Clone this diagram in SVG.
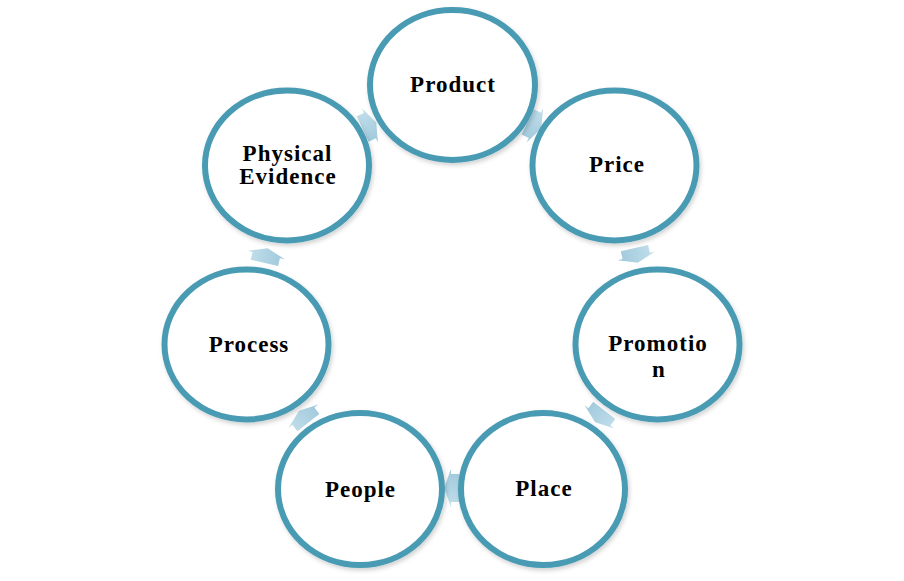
<svg xmlns="http://www.w3.org/2000/svg" width="904" height="581" viewBox="0 0 904 581">
  <defs>
    <filter id="sh" x="-10%" y="-10%" width="125%" height="125%">
      <feDropShadow dx="1.5" dy="2.5" stdDeviation="2" flood-color="#000" flood-opacity="0.18"/>
    </filter>
    <linearGradient id="ag" x1="0" y1="0" x2="0" y2="1">
      <stop offset="0" stop-color="#c2dfeb"/>
      <stop offset="1" stop-color="#9fc8db"/>
    </linearGradient>
    <polygon id="arr" points="-7,-14 1,-14 1,-19 8,0 1,19 1,14 -7,14"/>
  </defs>
  <style>
    .node ellipse { fill: #ffffff; stroke: #4A9BB4; stroke-width: 6; filter: url(#sh); }
    .node text { font-family: "Liberation Serif", "Times New Roman", serif; font-weight: bold; font-size: 23px; letter-spacing: 1px; text-anchor: middle; fill: #000; }
    .conn use { fill: url(#ag); }
  </style>
  <rect width="904" height="581" fill="#ffffff"/>
  <g id="connectors" class="conn">
    <use href="#arr" transform="translate(369,126) rotate(-25)"/>
    <use href="#arr" transform="translate(534,125) rotate(26)"/>
    <use href="#arr" transform="translate(636,255) rotate(77)"/>
    <use href="#arr" transform="translate(600,416) rotate(128)"/>
    <use href="#arr" transform="translate(452,488) rotate(180)"/>
    <use href="#arr" transform="translate(304,417) rotate(232)"/>
    <use href="#arr" transform="translate(266,256) rotate(283)"/>
  </g>
  <g id="product" class="node">
    <ellipse cx="452.5" cy="85" rx="82.5" ry="75"/>
    <text x="453" y="92">Product</text>
  </g>
  <g id="price" class="node">
    <ellipse cx="614.5" cy="165.5" rx="82" ry="75"/>
    <text x="617" y="172">Price</text>
  </g>
  <g id="promotion" class="node">
    <ellipse cx="657.5" cy="344.5" rx="82" ry="75"/>
    <text x="658" y="351">Promotio</text>
    <text x="659" y="377">n</text>
  </g>
  <g id="place" class="node">
    <ellipse cx="543" cy="489" rx="82" ry="76"/>
    <text x="544" y="496">Place</text>
  </g>
  <g id="people" class="node">
    <ellipse cx="360" cy="489" rx="82" ry="76"/>
    <text x="360.5" y="497">People</text>
  </g>
  <g id="process" class="node">
    <ellipse cx="246.5" cy="344.5" rx="82" ry="75"/>
    <text x="249" y="352">Process</text>
  </g>
  <g id="physical-evidence" class="node">
    <ellipse cx="287" cy="165.5" rx="82" ry="75"/>
    <text x="287.5" y="161">Physical</text>
    <text x="288" y="184">Evidence</text>
  </g>
</svg>
